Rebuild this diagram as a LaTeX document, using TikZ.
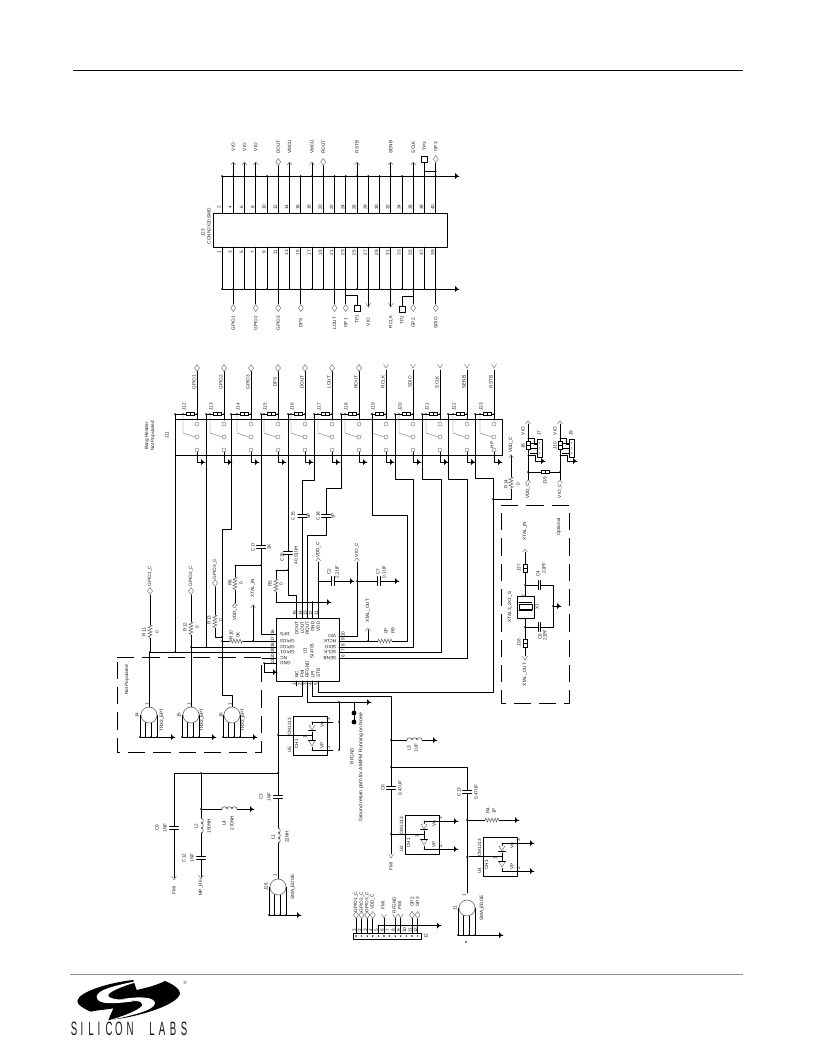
\documentclass[tikz,border=0pt]{standalone}
\usepackage{fontspec}
\setmainfont{Liberation Sans}
\usetikzlibrary{decorations.pathmorphing}
\newcounter{lbc}
\tikzset{
  lb/.style={inner sep=0pt,font=\fontsize{3.5}{3.8}\selectfont,text=black!90},
  wire/.style={line width=0.55pt,black,line cap=round,line join=round},
  thin gray/.style={line width=0.35pt,black!55},
  zig/.style={line width=0.4pt,black!60,decorate,decoration={zigzag,amplitude=1.5pt,segment length=2.3pt}},
  dashbox/.style={line width=0.55pt,black,dash pattern=on 13pt off 6pt}
}
\newcommand{\Lb}[4][]{\stepcounter{lbc}\node[lb,rotate=90,#1] (lb\arabic{lbc}) at (#2,#3) {#4};}
\newcommand{\Lh}[4][]{\stepcounter{lbc}\node[lb,rotate=180,#1] (lb\arabic{lbc}) at (#2,#3) {#4};}
\newcommand{\Diam}[2]{\draw[thin gray,fill=white] (#1,#2-3.5)--(#1+2.5,#2)--(#1,#2+3.5)--(#1-2.5,#2)--cycle;}
\newcommand{\ChU}[2]{\draw[thin gray] (#1-2.5,#2+3)--(#1,#2)--(#1+2.5,#2+3);}
\newcommand{\ChD}[2]{\draw[thin gray] (#1-2.5,#2-4)--(#1,#2)--(#1+2.5,#2-4);}
\newcommand{\Gnd}[2]{\fill[black] (#1,#2-3)--(#1,#2+3)--(#1+3,#2)--cycle;\draw[wire,line width=.4pt] (#1+2,#2)--(#1+4,#2);}
\newcommand{\Dt}[2]{\fill[black] (#1,#2) circle[radius=0.8];}
\newcommand{\CapV}[2]{\fill[white] (#1-4,#2-1.2) rectangle (#1+4,#2+1.2);\draw[wire] (#1-4.5,#2-1.3)--(#1+4.5,#2-1.3) (#1-4.5,#2+1.3)--(#1+4.5,#2+1.3);}
\newcommand{\CapH}[2]{\fill[white] (#1-1.2,#2-4) rectangle (#1+1.2,#2+4);\draw[wire] (#1-1.3,#2-4.5)--(#1-1.3,#2+4.5) (#1+1.3,#2-4.5)--(#1+1.3,#2+4.5);}
\newcommand{\ResV}[3]{\fill[white] (#1-2,#2) rectangle (#1+2,#3);\draw[zig] (#1,#2)--(#1,#3);}
\newcommand{\ResH}[3]{\fill[white] (#1,#3-2) rectangle (#2,#3+2);\draw[zig] (#1,#3)--(#2,#3);}
% inductors: wire x, first y; three bumps of 5 px
\newcommand{\IndV}[2]{\fill[white] (#1-.5,#2) rectangle (#1+.5,#2+15);\foreach \k in {0,5,10}{\draw[line width=.45pt,black!70] (#1,#2+\k) .. controls (#1+3,#2+\k) and (#1+3,#2+\k+5) .. (#1,#2+\k+5);}}
\newcommand{\IndH}[2]{\fill[white] (#1,#2-.5) rectangle (#1+15,#2+.5);\foreach \k in {0,5,10}{\draw[line width=.45pt,black!70] (#1+\k,#2) .. controls (#1+\k,#2-3) and (#1+\k+5,#2-3) .. (#1+\k+5,#2);}}
\newcommand{\JmpH}[2]{\draw[line width=.5pt,black,fill=white] (#1-4,#2-1.8) rectangle (#1+4,#2+1.8);\draw[line width=.5pt] (#1,#2-1.8)--(#1,#2+1.8);}
\newcommand{\JmpV}[2]{\draw[line width=.5pt,black,fill=white] (#1-2,#2-4) rectangle (#1+2,#2+4);\draw[line width=.5pt] (#1-2,#2)--(#1+2,#2);}
% CM1213 protection block, top-left corner given
\newcommand{\Cm}[3]{\begin{scope}[shift={(#1,#2)}]
 \draw[wire] (0,0) rectangle (34,39);
 \draw[wire] (19,6)--(19,34) (19,6)--(40,6) (19,34)--(40,34);
 \fill[white] (15.5,8.5) rectangle (22.5,15.5) (15.5,24) rectangle (22.5,31);
 \draw[thin gray] (16,9)--(22,9)--(19,14)--cycle (16,25)--(22,25)--(19,30)--cycle;
 \draw[wire] (15.5,14.5)--(22.5,14.5) (15.5,24.5)--(22.5,24.5);
 \draw[wire] (-14,19)--(19,19);
 \Lb{-3.5}{34}{#3}\Lb{3.5}{28}{CH1}\Lb{-3.5}{11}{CM1213}
 \Lb{29}{9}{Vn}\Lb{29}{29}{VP}\Lb{35.5}{3.5}{3}\Lb{35.5}{31.5}{2}\Lb{12}{21}{1}
\end{scope}}
\newcommand{\Smb}[6]{% cx,cy, gnd y, gnd x, name
 \draw[wire] (#1-9,#2)--(#1-9,#3) (#1-3.5,#2)--(#1-3.5,#3) (#1+2,#2)--(#1+2,#3) (#1+8,#2)--(#1+8,#3) (#1-9,#3)--(#4,#3);
 \foreach \dx in {-9,-3.5,2,8}{\Dt{#1+\dx}{#3}}
 \draw[line width=.5pt,black!55,fill=white] (#1,#2) circle[radius=8];\Gnd{#4}{#3}}
\begin{document}
\begin{tikzpicture}[x=0.75pt,y=-0.75pt]
\useasboundingbox (0,0) rectangle (816,1056);
% ---- page rules
\draw[line width=0.55pt,black] (73,70)--(743,70);
\draw[line width=0.7pt,black!45] (70,974.5)--(743,974.5);
% ---- J23
\draw[wire] (213,213) rectangle (447,247);
\foreach \i [evaluate=\i as \xx using 222+11.25*\i, evaluate=\i as \na using int(2*\i+2), evaluate=\i as \nb using int(2*\i+1)] in {0,...,19}{
 \draw[wire] (\xx,213)--(\xx,176) (\xx,247)--(\xx,289);
 \Dt{\xx}{176}\Dt{\xx}{289}
 \Lb{\xx-3}{207}{\na}\Lb{\xx-3}{252.5}{\nb}
}
\draw[wire] (222,176)--(455,176) (222,289)--(455,289);
\Gnd{455}{176}\Gnd{455}{289}
\Lb{203}{233}{J23}\Lb{209}{226}{CONN2X20 SMD}
\foreach \xx/\tt/\pp in {233.25/VIO/\ChU,244.5/VIO/\ChU,255.75/VIO/\ChU,278.25/DOUT/\Diam,289.5/VMCU/\ChU,312/VMCU/\ChU,323.25/ROUT/\Diam,357/RSTB/\ChU,390.75/SENB/\ChU,413.25/SCLK/\ChU}{
 \draw[wire] (\xx,176)--(\xx,163);\pp{\xx}{162}\Lb{\xx}{147}{\tt}}
\draw[wire] (435.75,176)--(435.75,163);\Diam{435.75}{159}\Lb{435.75}{147}{GP3}
\draw[wire] (424.5,176)--(424.5,162) (424.5,171.7)--(435.75,171.7);\Dt{435.75}{171.7}
\draw[wire,fill=white] (421.5,156)rectangle(427.5,162);\Lb{424.5}{146}{TP3}
\foreach \xx/\tt in {233.25/GPIO1,255.75/GPIO2,278.25/GPIO3,300.75/DFS,334.5/LOUT,345.75/GP1,413.25/GP2,435.75/SDIO}{
 \draw[wire] (\xx,289)--(\xx,304);\Diam{\xx}{308}\Lb{\xx}{323}{\tt}}
\foreach \xx/\tt in {368.25/VIO,390.75/RCLK}{
 \draw[wire] (\xx,289)--(\xx,307);\ChD{\xx}{307}\Lb{\xx}{322}{\tt}}
\draw[wire] (345.75,295)--(357,295)--(357,305) (413.25,296)--(402,296)--(402,306);
\draw[wire,fill=white] (354,305)rectangle(360,311);\Lb{357}{319}{TP1}
\draw[wire,fill=white] (399,306)rectangle(405,312);\Lb{402}{320}{TP2}
% ---- Bang header J11
\draw[wire] (175,419) rectangle (502,455);
\Lb{147}{436}{Bang Header}\Lb{153}{436}{Not Populated}\Lb{167}{435}{J11}
\foreach \xc/\xl/\nm/\sg/\pp in {197/175/J12/GPIO1/\Diam,224/206/J13/GPIO2/\Diam,251/231/J14/GPIO3/\Diam,278/261/J15/DFS/\Diam,305/288/J16/DOUT/\Diam,332/314/J17/LOUT/\Diam,359/341/J18/ROUT/\Diam,386/372/J19/RCLK/\ChD,413/395/J20/SDIO/\ChD,440/422/J21/SCLK/\ChD,467/448/J22/SENB/\ChD,494/475/J23/RSTB/\ChD}{
 \draw[wire] (\xc,370)--(\xc,420) (\xl,414)--(\xc,414);
 \pp{\xc}{368}
 \Lb{\xc-3}{382}{\sg}
 \JmpH{\xc-7}{414}\Lb{\xc-13}{407}{\nm}
 \Dt{\xc-14}{414}\Dt{\xc}{414}\Dt{\xl}{414}
 \draw[thin gray] (\xc-14,414)--(\xc-14,433)--(\xc-2,437);
 \foreach \yy in {424,437,450}{\draw[thin gray,fill=white] (\xc,\yy) circle[radius=2];}
 \draw[wire] (\xc,452)--(\xc,462)--(\xc+4,462);\Gnd{\xc+4}{462}
}
\Lb{492}{445}{HP}
% ---- U1
\draw[wire] (276,618) rectangle (339,681);
% wires to header
\draw[wire] (150,652)--(276,652) (175,414)--(175,652);
\draw[wire] (191,647)--(276,647) (206,414)--(206,647);
\draw[wire] (231,414)--(231,529)--(222,529)--(222,641)--(276,641);
\draw[wire] (261,414)--(261,634)--(276,634) (235,565)--(261,565);
\draw[wire] (288,414)--(288,595)--(296.7,595)--(296.7,618) (276,570)--(288,570);
\draw[wire] (314,414)--(314,480)--(302.3,480)--(302.3,618);
\draw[wire] (341,414)--(341,488)--(326,488)--(326,535)--(307.3,535)--(307.3,618);
\draw[wire] (276,602)--(327,602) (312.7,602)--(312.7,618);\Gnd{327}{602}
\draw[wire] (318.3,562)--(318.3,618) (318.3,581)--(350,581);\Gnd{350}{581}
\draw[wire] (357,562)--(357,636)--(339,636) (357,581)--(395,581);\Gnd{395}{581}
\draw[wire] (339,641)--(407,641)--(407,515)--(372,515)--(372,414);
\draw[wire] (339,647)--(413,647)--(413,479)--(395,479)--(395,414);
\draw[wire] (339,652)--(441,652)--(441,479)--(422,479)--(422,414);
\draw[wire] (339,658)--(467,658)--(467,479)--(448,479)--(448,414);
\draw[wire] (318.3,681)--(318.3,692)--(493,692)--(493,478)--(475,478)--(475,414);
\draw[wire] (368,630)--(368,641);
\draw[wire] (262,658)--(276,658);
\draw[wire] (276,663)--(264,663)--(264,672)--(273,672);\Gnd{273}{672}
\draw[wire] (296.7,681)--(296.7,686);
\draw[wire] (302.3,681)--(302.3,696)--(278,696)--(278,879);
\draw[wire] (307.3,681)--(307.3,702)--(367,702);\Gnd{367}{702}
\draw[wire] (312.7,681)--(312.7,696)--(391,696)--(391,854);
\draw[wire] (339,702)--(339,750);
\draw[wire] (354,702)--(354,722);\fill (354,713) circle[radius=2.4] (354,722) circle[radius=2.4];
\foreach \a/\b in {150/652,175/652,191/647,222/641,222/637,253/641,261/565,288/570,312.7/602,318.3/581,357/581,368/641,339/702,339/722,339/750,278/735,278/773,201/773,391/740,391/767,391/834,467/820,467/857,201/809,525/585,525/627,553/606,493/499,528/472,560/472,378.4/925.7,264/663}{\Dt{\a}{\b}}
% pin labels
\foreach \yy/\tt/\n in {634/DFS/16,641/GPIO3/17,647/GPIO2/18,652/GPIO1/19,658/NC/20,663/GND/21}{\Lh[anchor=east]{280}{\yy}{\tt}\Lb{272.5}{\yy-2}{\n}}
\foreach \yy/\tt/\n in {636/VIO/10,641/RCLK/9,647/SDIO/8,652/SCLK/7,658/SENB/6}{\Lh[anchor=west]{336.5}{\yy}{\tt}\Lb{343}{\yy-2}{\n}}
\foreach \xx/\tt/\n in {296.7/DOUT/15,302.3/LOUT/14,307.3/ROUT/13,312.7/GND/12,318.3/VDD/11}{\Lb[anchor=east]{\xx}{621}{\tt}\Lb{\xx-2}{613}{\n}}
\foreach \xx/\tt/\n in {296.7/NC/1,302.3/FMI/2,307.3/RFGND/3,312.7/LPI/4,318.3/STB/5}{\Lb[anchor=west]{\xx}{678}{\tt}\Lb{\xx-2.5}{684.5}{\n}}
\Lb{305}{651}{U1}\Lb{312}{651}{SI4705}
% R's and caps near U1
\draw[wire] (150,595)--(150,652) (191,595)--(191,707);
\draw[wire] (215,587)--(215,637)--(222,637);
\Diam{150}{591}\Diam{191}{591}\Diam{215}{583}
\ResV{150}{625}{638}\ResV{191}{622}{635}\ResV{215}{615}{628}
\Lb{150}{576}{GPIO1\_C}\Lb{191}{576}{GPIO2\_C}\Lb{215}{569}{GPIO3\_C}
\Lb{144}{632}{R11}\Lb{157}{632}{0}\Lb{185}{627}{R12}\Lb{197}{627}{0}\Lb{209}{620}{R13}\Lb{221}{620}{0}
\ResH{230}{243}{641}\Lb{231}{635}{R10}\Lb{238}{635}{0K}
\draw[wire] (253,641)--(253,605);\ChU{253}{605}\Lb{253}{588}{XTAL\_IN}
\draw[wire] (235,565)--(235,603);\ResV{235}{577}{590}\ChU{235}{603}\Lb{235}{613}{VDD\_C}
\Lb{230}{583}{R8}\Lb{241}{583}{0}
\draw[wire] (276,570)--(276,602);\ResV{276}{579}{592}\Lb{270}{584}{R5}\Lb{281}{584}{0}
\CapV{261}{547}\Lb{253}{547}{C17}\Lb{269}{547}{2K}
\CapV{288}{553}\Lb{282}{557}{C16}\Lb{296}{555}{40.01UH}
\CapV{302.3}{516}\Lb{293}{516}{C15}\Lb{308.5}{516}{5P}
\CapV{326}{516}\Lb{318}{516}{C18}\Lb{333}{516}{5P}
\ChU{318.3}{558}\Lb{318.3}{550}{VDD\_C}\ChU{357}{558}\Lb{357}{550}{VIO\_C}
\CapH{333}{581}\Lb{329}{572}{C2}\Lb{337}{572}{2.2UF}
\CapH{379}{581}\Lb{378}{572}{C7}\Lb{384}{572}{0.1UF}
\ChU{368}{628}\Lb{368}{611}{XTAL\_OUT}
\ResH{378}{392}{641}\Lb{386}{631}{0P}\Lb{393}{631}{R9}
% Not populated
\draw[dashbox] (117,657)--(261,657)--(261,752)--(117,752)--cycle;
\Lb{127}{680}{Not Populated}
\Smb{149}{715}{737}{171}{}{}\draw[wire] (149,652)--(149,707);\Lb{137}{715}{J4}\Lb{162}{720}{TRX3\_EPT}\Lb{147}{704}{1}
\Smb{191}{715}{737}{212}{}{}\Lb{179}{715}{J5}\Lb{202}{720}{TRX3\_EPT}\Lb{189}{704}{1}
\draw[wire] (222,641)--(222,695)--(232,695)--(232,707);
\Smb{232}{715}{737}{253}{}{}\Lb{221}{715}{J6}\Lb{243}{720}{TRX3\_EPT}\Lb{230}{704}{1}
% U5/U2/U4
\Cm{293}{716}{U5}
\Lb{352}{756}{RFGND}
\Lb[font=\fontsize{3.8}{4}\selectfont]{361}{767}{Ground return path for AM/FM Running on Noise}
\draw[wire] (391,740)--(433,740);\IndH{407}{740}\Gnd{433}{740}\Lb{409}{748}{L3}\Lb{416}{748}{1UF}
\draw[wire] (391,767)--(467,767)--(467,893);
\CapV{391}{788}\Lb{383}{788}{C8}\Lb{400}{788}{0.47UF}
\CapV{467}{792}\Lb{459}{792}{C13}\Lb{476}{792}{0.47UF}
\Cm{405}{815}{U2}\draw[wire] (445,821)--(454,821) (445,849)--(454,849);\Gnd{454}{821}\Gnd{454}{849}
\ChD{391}{858}\Lb{391}{866}{FMI}
\draw[wire] (467,820)--(515,820);\ResH{485}{499}{820}\Gnd{515}{820}\Lb{488}{811}{R4}\Lb{494}{811}{1P}
\Cm{483}{837}{U4}\draw[wire] (523,843)--(530,843) (523,871)--(530,871);\Gnd{530}{843}\Gnd{530}{871}
% left RF
\draw[wire] (174,878)--(174,773)--(278,773) (201,773)--(201,877) (201,809)--(250,809);
\IndH{222}{809}\Gnd{250}{809}\Lb{224}{823}{L4}\Lb{232}{823}{270NH}
\IndV{201}{818}\Lb{196}{826}{L2}\Lb{209}{826}{150NH}
\CapV{174}{828}\Lb{157}{828}{C9}\Lb{165}{828}{1NF}
\CapV{201}{858}\Lb{184}{858}{C12}\Lb{192}{858}{1NF}
\ChD{174}{880}\Lb{174}{890}{FMI}\ChD{201}{879}\Lb{201}{888}{MP\_RF}
\CapV{278}{797}\Lb{261}{797}{C3}\Lb{269}{797}{1NF}
\IndV{278}{828}\Lb{273}{837}{L1}\Lb{287}{837}{22NH}
\Smb{278}{887}{915}{297}{}{}\Lb{266}{887}{J26}\Lb{293}{887}{SMA\_EDGE}\Lb{275}{875}{1}
\Smb{467}{908}{935}{499}{}{}\Lb{455}{908}{J1}\Lb{482}{908}{SMA\_EDGE}\Lb{464}{895}{1}
\Dt{466}{942}
% J2
\draw[wire] (353,933) rectangle (421,939);\Lb{426}{936}{J2}
\foreach \i [evaluate=\i as \xx using 356+5.6*\i, evaluate=\i as \n using int(\i+1)] in {0,...,11}{\Dt{\xx}{936}\Lb{\xx-2}{930}{\n}}
\foreach \i/\tt in {0/GPIO1\_C,1/GPIO2\_C,2/GPIO3\_C,3/VDD\_C,10/GP2,11/GP3}{\pgfmathsetmacro\xx{356+5.6*\i}\draw[wire] (\xx,933)--(\xx,917);\Diam{\xx}{915}\Lb{\xx}{902}{\tt}}
\foreach \i/\tt in {5/FMI,7/RFGND,8/FMI}{\pgfmathsetmacro\xx{356+5.6*\i}\draw[wire] (\xx,933)--(\xx,918);\ChD{\xx}{918}\Lb{\xx-1}{905}{\tt}}
\draw[wire] (378.4,933)--(378.4,925.7)--(437,925.7);\Gnd{437}{925.7}
% R14 / optional
\draw[wire] (493,499)--(511,499)--(511,455);\ResV{511}{477}{489}\ChU{511}{455}\Lb{511}{445}{VDD\_C}
\Lb{506}{484}{R14}\Lb{518}{484}{0}
\draw[dashbox] (501,505)--(569,505)--(569,703)--(501,703)--cycle;
\Lb{559}{527}{Optional}
\ChU{525}{549}\Lb{525}{531}{XTAL\_IN}
\draw[wire] (525,552)--(525,596) (525,618)--(525,656) (525,585)--(553,585)--(553,627)--(525,627) (553,606)--(557,606);\Gnd{557}{606}
\JmpV{525}{568}\JmpV{525}{643}\Lb{519}{568}{J37}\Lb{519}{643}{J38}
\CapH{539.5}{585}\CapH{539.5}{627}
\Lb{538}{574}{C4}\Lb{544}{568}{22PF}\Lb{540}{637}{C6}\Lb{545}{635}{22PF}
\ChD{525}{660}\Lb{525}{675}{XTAL\_OUT}
\draw[wire] (517,596) rectangle (534,618);
\draw[wire] (519,604) rectangle (532,609) (519,602.5)--(532,602.5) (519,610.5)--(532,610.5);
\Lb{537}{607}{X1}\Lb{510}{607}{XTAL3\_2X1\_S}
\Lb{523}{596}{2}\Lb{523}{619}{1}
% J7 J8 J9 J10
\foreach \o/\a/\b/\c/\d in {0/VIO/J8/J7/VDD\_C,32/VIO/J10/J9/VIO\_C}{
 \begin{scope}[shift={(\o,0)}]
 \draw[wire] (528,424)--(528,480) (528,438)--(534,438)--(534,444)--(537,444) (528,455)--(535,455)--(535,461)--(541,461);
 \ChU{528}{421}\ChU{528}{480}
 \Lb{523}{431}{\a}\Lb{523}{446}{\b}\Lb{539}{433}{\c}\Lb{528}{491}{\d}
 \JmpV{528}{445.5}
 \draw[wire,fill=white] (537,439) rectangle (542,457);
 \foreach \yy in {443,448,453}{\fill[black!70] (539.5,\yy) circle[radius=.6];\draw[line width=.4pt] (530,\yy)--(537,\yy);}
 \Gnd{541}{461}
 \end{scope}}
\draw[wire] (528,472)--(560,472);\JmpH{545}{472}\Lb{545}{481}{J39}
% ---- logo
\begin{scope}[shift={(70,975)},x=0.25pt,y=-0.25pt]
 \fill[black] (190,15) .. controls (120,22) and (25,50) .. (22,78) .. controls (22,92) and (45,102) .. (62,110)
   .. controls (85,105) and (100,105) .. (130,100) -- (115,135) .. controls (200,128) and (325,90) .. (330,55)
   .. controls (330,42) and (310,28) .. (285,18) .. controls (250,35) and (220,40) .. (200,45) -- cycle;
 \fill[white] (240,10) .. controls (150,28) and (80,42) .. (80,65) .. controls (80,90) and (130,88) .. (210,76)
   .. controls (150,76) and (112,72) .. (115,60) .. controls (118,48) and (170,28) .. (240,10) -- cycle;
 \fill[white] (95,142) .. controls (180,122) and (252,108) .. (255,85) .. controls (255,66) and (210,62) .. (145,74)
   .. controls (190,74) and (220,78) .. (217,90) .. controls (213,102) and (170,122) .. (95,142) -- cycle;
\end{scope}
\node[inner sep=0pt,font=\fontsize{3.5}{4}\selectfont,text=black!70] (reg) at (185,983) {®};
\foreach \xx/\ch in {74/S,82/I,91/L,99/I,109/C,119/O,130/N,152/L,162/A,173/B,184/S}{
 \stepcounter{lbc}\node[inner sep=0pt,xscale=.5,font=\fontsize{14.5}{15}\selectfont,text=black!90] (lg\arabic{lbc}) at (\xx,1029) {\ch};}
\end{tikzpicture}
\end{document}
